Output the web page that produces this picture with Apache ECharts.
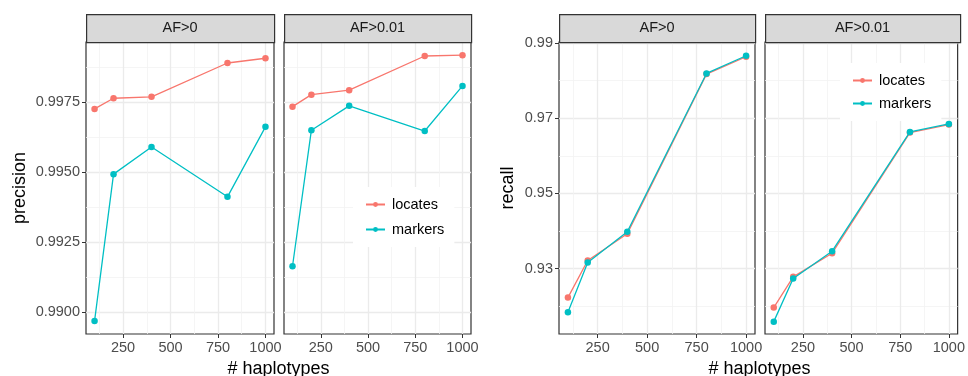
<!DOCTYPE html>
<html>
<head>
<meta charset="UTF-8">
<title>precision / recall by haplotypes</title>
<script src="https://cdn.jsdelivr.net/npm/echarts@6/dist/echarts.min.js"></script>
<style>
  html, body { margin: 0; padding: 0; background: #fff; }
  #main { width: 968px; height: 376px; }
</style>
</head>
<body>
<div id="main"></div>
<script>
// data
const haplotypes = [100, 200, 400, 800, 1000];
const facets = ['AF>0', 'AF>0.01'];

const precisionLocatesAF0   = [0.99726, 0.99764, 0.99769, 0.99890, 0.99907];
const precisionMarkersAF0   = [0.98968, 0.99493, 0.99590, 0.99412, 0.99662];
const precisionLocatesAF001 = [0.99734, 0.99777, 0.99793, 0.99915, 0.99918];
const precisionMarkersAF001 = [0.99164, 0.99650, 0.99737, 0.99647, 0.99808];

const recallLocatesAF0   = [0.92227, 0.93213, 0.93925, 0.98173, 0.98635];
const recallMarkersAF0   = [0.91835, 0.93160, 0.93979, 0.98191, 0.98661];
const recallLocatesAF001 = [0.91960, 0.92778, 0.93408, 0.96616, 0.96829];
const recallMarkersAF001 = [0.91587, 0.92733, 0.93461, 0.96635, 0.96848];

const xTicks = [250, 500, 750, 1000];
const xMinor = [125, 375, 625, 875];
const precTicks = [0.99, 0.9925, 0.995, 0.9975];
const precMinor = [0.99125, 0.99375, 0.99625, 0.99875];
const recallTicks = [0.93, 0.95, 0.97, 0.99];
const recallMinor = [0.92, 0.94, 0.96, 0.98];

const colLocates = '#F8766D';
const colMarkers = '#00BFC4';

var chart = echarts.init(document.getElementById('main'));

// panel boxes [left, width]
const panels = [
  { left: 86,  width: 188 },
  { left: 284, width: 187 },
  { left: 559, width: 196 },
  { left: 765, width: 195 }
];
const panelTop = 42, panelHeight = 292;

const grids = panels.map(p => ({
  left: p.left, top: panelTop, width: p.width, height: panelHeight,
  show: true, borderColor: '#333', borderWidth: 1.2, backgroundColor: 'transparent'
}));

function xMajor(i) {
  return {
    type: 'value', gridIndex: i, min: 55, max: 1045,
    axisLine: { show: false },
    axisTick: { show: true, length: 4, lineStyle: { color: '#333' }, customValues: xTicks },
    axisLabel: { color: '#4D4D4D', fontSize: 14.5, fontFamily: 'Liberation Sans, Arial', margin: 6,
      customValues: xTicks, formatter: v => String(v) },
    splitLine: { show: true, lineStyle: { color: '#EBEBEB', width: 1.3 } }
  };
}
function xMinorAxis(i) {
  return {
    type: 'value', gridIndex: i, min: 55, max: 1045, position: 'bottom',
    axisLine: { show: false }, axisLabel: { show: false },
    axisTick: { show: false, customValues: xMinor },
    splitLine: { show: true, lineStyle: { color: '#F2F2F2', width: 0.8 } }
  };
}
function yMajor(i, min, max, ticks, showLabels, name) {
  return {
    type: 'value', gridIndex: i, min: min, max: max,
    name: name || '', nameLocation: 'middle', nameGap: 57, nameRotate: 90,
    nameTextStyle: { color: '#000', fontSize: 18, fontFamily: 'Liberation Sans, Arial' },
    axisLine: { show: false },
    axisTick: { show: showLabels, length: 4, lineStyle: { color: '#333' }, customValues: ticks },
    axisLabel: { show: showLabels, color: '#4D4D4D', fontSize: 14.5, fontFamily: 'Liberation Sans, Arial', margin: 6,
      customValues: ticks, formatter: v => String(v) },
    splitLine: { show: true, lineStyle: { color: '#EBEBEB', width: 1.3 } }
  };
}
function yMinorAxis(i, min, max, ticks) {
  return {
    type: 'value', gridIndex: i, min: min, max: max, position: 'left',
    axisLine: { show: false }, axisLabel: { show: false },
    axisTick: { show: false, customValues: ticks },
    splitLine: { show: true, lineStyle: { color: '#F2F2F2', width: 0.8 } }
  };
}

const precMin = 0.98922, precMax = 0.99965;
const recMin = 0.91258, recMax = 0.99027;

const precFmt = v => v.toFixed(4);
const recFmt = v => v.toFixed(2);

const yAxes = [
  yMajor(0, precMin, precMax, precTicks, true, 'precision'),
  yMajor(1, precMin, precMax, precTicks, false),
  yMajor(2, recMin, recMax, recallTicks, true, 'recall'),
  yMajor(3, recMin, recMax, recallTicks, false),
  yMinorAxis(0, precMin, precMax, precMinor),
  yMinorAxis(1, precMin, precMax, precMinor),
  yMinorAxis(2, recMin, recMax, recallMinor),
  yMinorAxis(3, recMin, recMax, recallMinor)
];
yAxes[0].axisLabel.formatter = precFmt;
yAxes[2].axisLabel.formatter = recFmt;
yAxes[2].nameGap = 42;

const xAxes = [0, 1, 2, 3].map(xMajor).concat([0, 1, 2, 3].map(xMinorAxis));

function pairs(vals) {
  return haplotypes.map((h, k) => [h, vals[k]]);
}
function line(name, color, vals, idx) {
  return {
    name: name, type: 'line', xAxisIndex: idx, yAxisIndex: idx,
    data: pairs(vals), symbol: 'circle', symbolSize: 6.5,
    lineStyle: { color: color, width: 1.3 }, itemStyle: { color: color },
    z: name === 'markers' ? 4 : 3,
    animation: false
  };
}

const series = [
  line('locates', colLocates, precisionLocatesAF0, 0),
  line('markers', colMarkers, precisionMarkersAF0, 0),
  line('locates', colLocates, precisionLocatesAF001, 1),
  line('markers', colMarkers, precisionMarkersAF001, 1),
  line('locates', colLocates, recallLocatesAF0, 2),
  line('markers', colMarkers, recallMarkersAF0, 2),
  line('locates', colLocates, recallLocatesAF001, 3),
  line('markers', colMarkers, recallMarkersAF001, 3)
];

function legendAt(left, topPos, gap) {
  return {
    data: ['locates', 'markers'], orient: 'vertical', left: left, top: topPos,
    backgroundColor: '#fff', padding: [10, 10, 10, 12],
    itemWidth: 19, itemHeight: 6, itemGap: gap,
    textStyle: { color: '#000', fontSize: 14.5, fontFamily: 'Liberation Sans, Arial', padding: [0, 0, 0, 2] },
    selectedMode: false
  };
}

// facet strips and shared x titles
const graphics = [];
panels.forEach((p, i) => {
  graphics.push({
    type: 'rect', left: p.left, top: 14,
    shape: { width: p.width, height: 28 },
    style: { fill: '#D9D9D9', stroke: '#333', lineWidth: 1.2 }, z: 10
  });
  graphics.push({
    type: 'text', x: p.left + p.width / 2, y: 28,
    style: { text: facets[i % 2], fill: '#1A1A1A', fontSize: 14.5, fontFamily: 'Liberation Sans, Arial',
      textAlign: 'center', textVerticalAlign: 'middle' }, z: 11
  });
});
[[86, 471], [559, 960]].forEach(r => {
  graphics.push({
    type: 'text', x: (r[0] + r[1]) / 2, y: 369,
    style: { text: '# haplotypes', fill: '#000', fontSize: 18, fontFamily: 'Liberation Sans, Arial',
      textAlign: 'center', textVerticalAlign: 'middle' }
  });
});

var option = {
  backgroundColor: '#fff',
  animation: false,
  grid: grids,
  xAxis: xAxes,
  yAxis: yAxes,
  legend: [legendAt(353, 187, 10), legendAt(840, 63, 8)],
  graphic: graphics,
  series: series
};

chart.setOption(option);
</script>
</body>
</html>
